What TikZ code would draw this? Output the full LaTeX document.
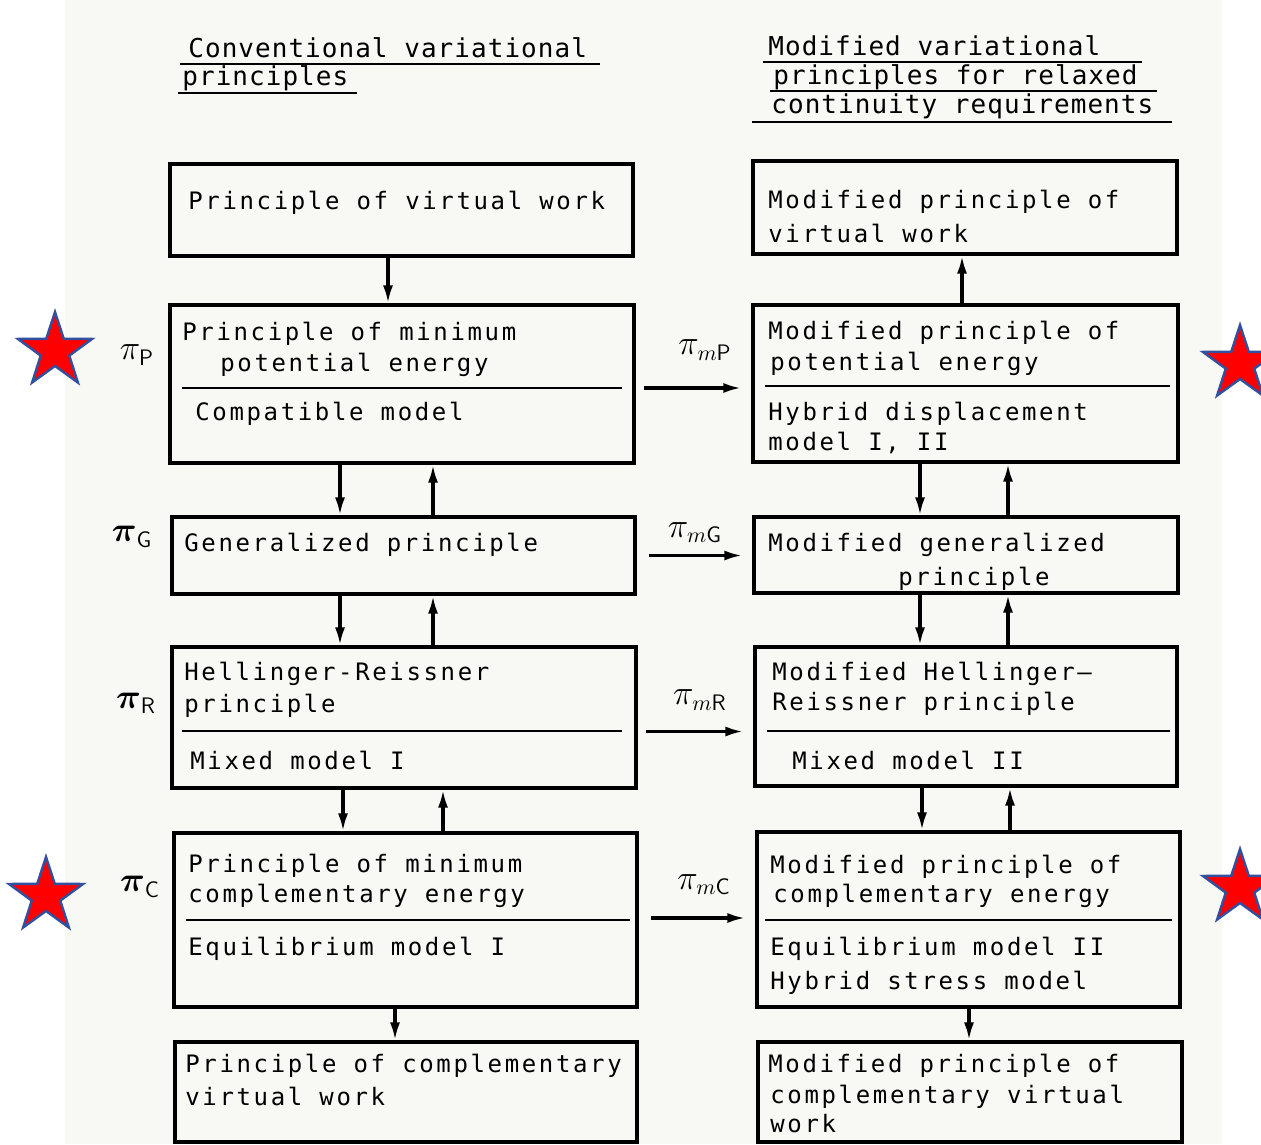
\documentclass[tikz,border=0pt]{standalone}
\usepackage{amsmath}
\usepackage{fontspec}
\usepackage{tikz}
\usetikzlibrary{arrows.meta,shapes.geometric,positioning}
\newfontfamily\boxfont[LetterSpace=11]{DejaVu Sans Mono}
\newfontfamily\headfont[LetterSpace=4]{DejaVu Sans Mono}
\definecolor{scan}{RGB}{248,248,244}
\definecolor{starline}{RGB}{50,80,160}

\begin{document}
\begin{tikzpicture}
 [x=0.5pt, y=-0.5pt, >={Latex[length=9pt,width=5pt]},
  box/.style={draw, line width=1.6pt, inner sep=0pt},
  txt/.style={anchor=base west, inner sep=0pt, font=\boxfont\fontsize{12pt}{14pt}\selectfont},
  head/.style={anchor=base west, inner sep=0pt, font=\headfont\fontsize{13pt}{15pt}\selectfont},
  pilabel/.style={inner sep=0pt, font=\fontsize{16pt}{18pt}\selectfont},
  arr/.style={->, line width=1.6pt},
  sep/.style={line width=1.4pt},
  redstar/.style={star, star points=5, star point ratio=2.6, minimum size=39pt,
    inner sep=0pt, fill=red, draw=starline, line width=1.2pt}]

\useasboundingbox (0,0) rectangle (1261,1144);
\clip (0,0) rectangle (1261,1144);
\fill[scan] (65,0) rectangle (1222,1144);

% headings
\node[head] (h1) at (188,58) {Conventional variational};
\node[head] (h2) at (182,86) {principles};
\node[head] (h3) at (768,56) {Modified variational};
\node[head] (h4) at (773,85) {principles for relaxed};
\node[head] (h5) at (771,114) {continuity requirements};
\draw[sep] (180,64) -- (600,64);
\draw[sep] (178,93) -- (357,93);
\draw[sep] (763,62) -- (1142,62);
\draw[sep] (770,91) -- (1157,91);
\draw[sep] (752,122) -- (1172,122);

% conventional principles
\node[box, minimum width=231.5pt, minimum height=46pt] (b1) at (401.5,210) {};
\node[box, minimum width=232pt, minimum height=79pt] (b2) at (402,384) {};
\node[box, minimum width=231.5pt, minimum height=38.5pt] (b3) at (403.5,555.5) {};
\node[box, minimum width=232pt, minimum height=70.5pt] (b4) at (404,717.5) {};
\node[box, minimum width=231.5pt, minimum height=87pt] (b5) at (405.5,920) {};
\node[box, minimum width=231pt, minimum height=50pt] (b6) at (406,1092) {};

\node[txt] (b1a) at (188,210) {Principle of virtual work};
\node[txt] (b2a) at (182,340) {Principle of minimum};
\node[txt] (b2b) at (220,371) {potential energy};
\node[txt] (b2c) at (195,420) {Compatible model};
\node[txt] (b3a) at (184,551) {Generalized principle};
\node[txt] (b4a) at (184,680) {Hellinger-Reissner};
\node[txt] (b4b) at (184,712) {principle};
\node[txt] (b4c) at (190,769) {Mixed model I};
\node[txt] (b5a) at (188,872) {Principle of minimum};
\node[txt] (b5b) at (188,902) {complementary energy};
\node[txt] (b5c) at (188,955) {Equilibrium model I};
\node[txt] (b6a) at (185,1072) {Principle of complementary};
\node[txt] (b6b) at (185,1105) {virtual work};
\draw[sep] (182,388) -- (622,388);
\draw[sep] (182,731) -- (622,731);
\draw[sep] (186,920) -- (630,920);

% modified principles
\node[box, minimum width=212pt, minimum height=46.5pt] (r1) at (965,207.5) {};
\node[box, minimum width=212.5pt, minimum height=78.5pt] (r2) at (965.5,383.5) {};
\node[box, minimum width=212pt, minimum height=38pt] (r3) at (966,555) {};
\node[box, minimum width=211pt, minimum height=69.5pt] (r4) at (966,716.5) {};
\node[box, minimum width=211.5pt, minimum height=87.5pt] (r5) at (968.5,919.5) {};
\node[box, minimum width=212pt, minimum height=50pt] (r6) at (970,1092) {};

\node[txt] (r1a) at (768,209) {Modified principle of};
\node[txt] (r1b) at (768,243) {virtual work};
\node[txt] (r2a) at (768,339) {Modified principle of};
\node[txt] (r2b) at (770,370) {potential energy};
\node[txt] (r2c) at (768,420) {Hybrid displacement};
\node[txt] (r2d) at (768,450) {model I, II};
\node[txt] (r3a) at (768,551) {Modified generalized};
\node[txt] (r3b) at (898,585) {principle};
\node[txt] (r4a) at (772,680) {Modified Hellinger–};
\node[txt] (r4b) at (772,710) {Reissner principle};
\node[txt] (r4c) at (792,769) {Mixed model II};
\node[txt] (r5a) at (770,873) {Modified principle of};
\node[txt] (r5b) at (773,902) {complementary energy};
\node[txt] (r5c) at (770,955) {Equilibrium model II};
\node[txt] (r5d) at (770,989) {Hybrid stress model};
\node[txt] (r6a) at (768,1072) {Modified principle of};
\node[txt] (r6b) at (770,1103) {complementary virtual};
\node[txt] (r6c) at (770,1132) {work};
\draw[sep] (765,386) -- (1170,386);
\draw[sep] (767,731) -- (1170,731);
\draw[sep] (765,920) -- (1172,920);

% functionals
\node[pilabel] (pP) at (137,355) {$\pi_{\textsf{P}}$};
\node[pilabel] (pG) at (132,537) {$\boldsymbol{\pi}_{\textsf{G}}$};
\node[pilabel] (pR) at (136,703) {$\boldsymbol{\pi}_{\textsf{R}}$};
\node[pilabel] (pC) at (140,887) {$\boldsymbol{\pi}_{\textsf{C}}$};
\node[pilabel] (pmP) at (705,350) {$\pi_{m\textsf{P}}$};
\node[pilabel] (pmG) at (695,533) {$\pi_{m\textsf{G}}$};
\node[pilabel] (pmR) at (700,700) {$\pi_{m\textsf{R}}$};
\node[pilabel] (pmC) at (704,885) {$\pi_{m\textsf{C}}$};

% stars
\node[redstar] (s1) at (55,351) {};
\node[redstar] (s2) at (46,896) {};
\node[redstar] (s3) at (1240,364) {};
\node[redstar] (s4) at (1240,888) {};

% arrow columns
\coordinate (xa) at (388,0);
\coordinate (xb) at (340,0);
\coordinate (xc) at (433,0);
\coordinate (xd) at (343,0);
\coordinate (xe) at (443,0);
\coordinate (xf) at (395,0);
\coordinate (xg) at (962,0);
\coordinate (xh) at (920,0);
\coordinate (xi) at (1008,0);
\coordinate (xj) at (922,0);
\coordinate (xk) at (1010,0);
\coordinate (xl) at (969,0);

\draw[arr] (b1.south -| xa) -- (b2.north -| xa);
\draw[arr] (b2.south -| xb) -- (b3.north -| xb);
\draw[arr] (b3.north -| xc) -- (b2.south -| xc);
\draw[arr] (b3.south -| xb) -- (b4.north -| xb);
\draw[arr] (b4.north -| xc) -- (b3.south -| xc);
\draw[arr] (b4.south -| xd) -- (b5.north -| xd);
\draw[arr] (b5.north -| xe) -- (b4.south -| xe);
\draw[arr] (b5.south -| xf) -- (b6.north -| xf);

\draw[arr] (r2.north -| xg) -- (r1.south -| xg);
\draw[arr] (r2.south -| xh) -- (r3.north -| xh);
\draw[arr] (r3.north -| xi) -- (r2.south -| xi);
\draw[arr] (r3.south -| xh) -- (r4.north -| xh);
\draw[arr] (r4.north -| xi) -- (r3.south -| xi);
\draw[arr] (r4.south -| xj) -- (r5.north -| xj);
\draw[arr] (r5.north -| xk) -- (r4.south -| xk);
\draw[arr] (r5.south -| xl) -- (r6.north -| xl);

\draw[arr, shorten <=4pt, shorten >=5pt] ([yshift=-2pt]b2.east) -- ([yshift=-2pt]b2.east -| r2.west);
\draw[arr, shorten <=6pt, shorten >=5pt] (b3.east) -- (b3.east -| r3.west);
\draw[arr, shorten <=4pt, shorten >=5pt] ([yshift=-7pt]b4.east) -- ([yshift=-7pt]b4.east -| r4.west);
\draw[arr, shorten <=6pt, shorten >=5pt] ([yshift=1pt]b5.east) -- ([yshift=1pt]b5.east -| r5.west);
\end{tikzpicture}
\end{document}
